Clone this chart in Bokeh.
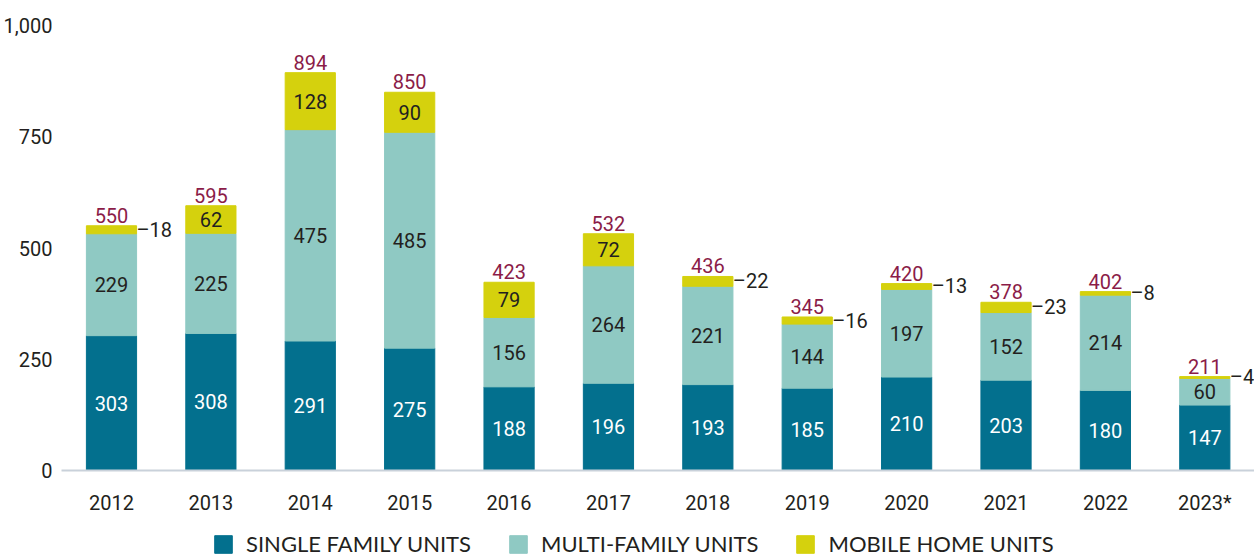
from bokeh.plotting import figure
from bokeh.layouts import column
from bokeh.models import (ColumnDataSource, Legend, LegendItem, FixedTicker,
                          NumeralTickFormatter, LabelSet)
from bokeh.core.properties import value
from bokeh.embed import file_html
from bokeh.resources import INLINE

years = ["2012", "2013", "2014", "2015", "2016", "2017", "2018", "2019", "2020", "2021", "2022", "2023*"]
single_family = [303, 308, 291, 275, 188, 196, 193, 185, 210, 203, 180, 147]
multi_family = [229, 225, 475, 485, 156, 264, 221, 144, 197, 152, 214, 60]
mobile_home = [18, 62, 128, 90, 79, 72, 22, 16, 13, 23, 8, 4]
totals = [550, 595, 894, 850, 423, 532, 436, 345, 420, 378, 402, 211]
y_ticks = [0, 250, 500, 750, 1000]
series_names = ["SINGLE FAMILY UNITS", "MULTI-FAMILY UNITS", "MOBILE HOME UNITS"]

C_SF = "#03708e"
C_MF = "#8fc9c3"
C_MH = "#d5d10d"
C_TOT = "#8b1c48"
C_TXT = "#231f20"
NUM_FONT = "Roboto"
NUM_SIZE = "20px"

xs = list(range(len(years)))
sf_top = single_family
mf_top = [a + b for a, b in zip(single_family, multi_family)]
mh_top = [a + b for a, b in zip(mf_top, mobile_home)]

src = ColumnDataSource(dict(
    x=xs, sf=single_family, mf=multi_family, mh=mobile_home,
    sf_top=sf_top, mf_top=mf_top, mh_top=mh_top,
    sf_mid=[t / 2 for t in sf_top],
    mf_mid=[(a + b) / 2 for a, b in zip(sf_top, mf_top)],
    sf_lbl=[str(v) for v in single_family],
    mf_lbl=[str(v) for v in multi_family],
    tot_lbl=[str(v) for v in totals],
))
inside = [i for i, v in enumerate(mobile_home) if v >= 40]
outside = [i for i, v in enumerate(mobile_home) if v < 40]
src_in = ColumnDataSource(dict(
    x=[xs[i] for i in inside],
    y=[(mf_top[i] + mh_top[i]) / 2 for i in inside],
    t=[str(mobile_home[i]) for i in inside]))
src_out = ColumnDataSource(dict(
    x=[xs[i] for i in outside],
    y=[(mf_top[i] + mh_top[i]) / 2 for i in outside],
    t=["\u2013" + str(mobile_home[i]) for i in outside]))

p = figure(frame_width=1193, frame_height=445, x_range=(-0.503, 11.50), y_range=(0, 1000),
           output_backend="svg", toolbar_location=None,
           min_border_left=0, min_border_right=0, min_border_top=25, min_border_bottom=46)
p.outline_line_color = None
p.grid.grid_line_color = None

W = 0.505
p.vbar(x="x", bottom=0, top="sf_top", width=W, color=C_SF, source=src)
p.vbar(x="x", bottom="sf_top", top="mf_top", width=W, color=C_MF, source=src)
p.vbar(x="x", bottom="mf_top", top="mh_top", width=W, color=C_MH, source=src)

common = dict(text_font=value(NUM_FONT), text_font_size=NUM_SIZE, text_align="center",
              text_baseline="middle")
p.text(x="x", y="sf_mid", text="sf_lbl", text_color="white", source=src, **common)
p.text(x="x", y="mf_mid", text="mf_lbl", text_color=C_TXT, source=src, **common)
p.text(x="x", y="y", text="t", text_color=C_TXT, source=src_in, **common)
p.text(x="x", y="mh_top", text="tot_lbl", text_color=C_TOT, source=src, y_offset=-3,
       text_font=value(NUM_FONT), text_font_size=NUM_SIZE, text_align="center",
       text_baseline="bottom")
side = LabelSet(x="x", y="y", text="t", source=src_out, x_offset=25,
                text_font=value(NUM_FONT), text_font_size=value(NUM_SIZE),
                text_color=C_TXT, text_align="left", text_baseline="middle")
p.add_layout(side)

p.xaxis.ticker = FixedTicker(ticks=xs)
p.xaxis.major_label_overrides = {i: y for i, y in enumerate(years)}
p.xaxis.axis_line_color = "#c9d1da"
p.xaxis.axis_line_width = 2
p.xaxis.major_tick_line_color = None
p.xaxis.minor_tick_line_color = None
p.xaxis.major_tick_out = 0
p.xaxis.major_tick_in = 0
p.xaxis.minor_tick_out = 0
p.xaxis.major_label_standoff = 20
p.xaxis.major_label_text_font = NUM_FONT
p.xaxis.major_label_text_font_size = NUM_SIZE
p.xaxis.major_label_text_color = C_TXT

p.yaxis.ticker = FixedTicker(ticks=y_ticks)
p.yaxis.formatter = NumeralTickFormatter(format="0,0")
p.yaxis.axis_line_color = None
p.yaxis.major_tick_line_color = None
p.yaxis.minor_tick_line_color = None
p.yaxis.major_tick_out = 0
p.yaxis.minor_tick_out = 0
p.yaxis.major_label_standoff = 9
p.yaxis.major_label_text_font = NUM_FONT
p.yaxis.major_label_text_font_size = NUM_SIZE
p.yaxis.major_label_text_color = C_TXT

# legend strip below the chart (its bars lie far below the visible range; only swatches show)
q = figure(width=1255, height=40, x_range=(-0.5, 11.5), y_range=(5000, 5010),
           x_axis_type=None, y_axis_type=None, output_backend="svg",
           toolbar_location=None, min_border=0)
q.outline_line_color = None
q.grid.grid_line_color = None
l_sf = q.vbar(x="x", bottom=0, top="sf_top", width=W, color=C_SF, source=src)
l_mf = q.vbar(x="x", bottom="sf_top", top="mf_top", width=W, color=C_MF, source=src)
l_mh = q.vbar(x="x", bottom="mf_top", top="mh_top", width=W, color=C_MH, source=src)

legend = Legend(items=[
    LegendItem(label=series_names[0], renderers=[l_sf]),
    LegendItem(label=series_names[1], renderers=[l_mf]),
    LegendItem(label=series_names[2], renderers=[l_mh]),
], orientation="horizontal", location=(151, 0))
legend.label_text_font = "Lato"
legend.label_text_font_size = "22px"
legend.label_text_color = C_TXT
legend.label_height = 18
legend.glyph_width = 22
legend.glyph_height = 22
legend.label_standoff = 12
legend.spacing = 36
legend.padding = 0
legend.margin = 0
legend.border_line_color = None
legend.background_fill_alpha = 0
q.add_layout(legend, "center")

layout = column(p, q, spacing=0)
open("out.html", "w").write(file_html(layout, INLINE))
